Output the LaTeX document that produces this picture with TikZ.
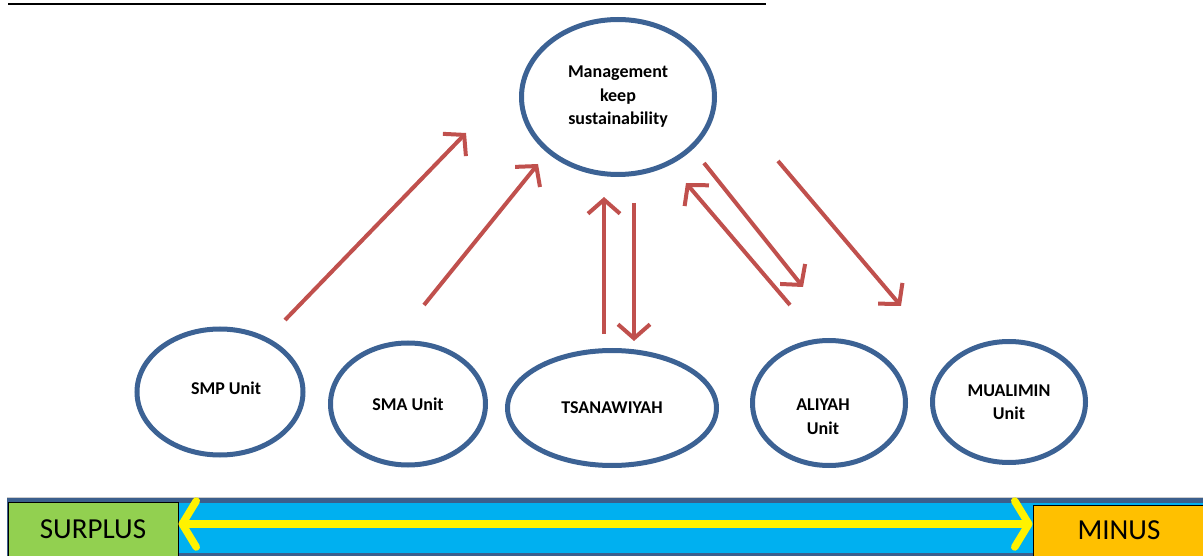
\documentclass[tikz,border=0pt]{standalone}
\usepackage{fontspec}
\setmainfont{Carlito}
\usetikzlibrary{
arrows.meta,%
positioning,%
calc,%
shapes.geometric
}
\definecolor{ringblue}{HTML}{3C6294}
\definecolor{flowred}{HTML}{C0504D}
\definecolor{barblue}{HTML}{3B5F8D}
\definecolor{barcyan}{HTML}{00B0F0}
\definecolor{surgreen}{HTML}{92D050}
\definecolor{minorange}{HTML}{FFC000}
\tikzset{
    unit/.style={draw=ringblue, line width=5pt, ellipse, inner sep=0pt,
        align=center, font=\fontsize{18}{23.5}\selectfont\bfseries},
    unittext/.style={font=\fontsize{18}{24}\selectfont\bfseries, align=center},
    flow/.style={-{Straight Barb[length=14pt, width=32pt]}, draw=flowred, line width=4pt},
    endbox/.style={draw=black, line width=1pt, inner sep=0pt,
        font=\fontsize{29}{30}\selectfont},
    gapline/.style={draw=yellow, line width=7.5pt,
        {Straight Barb[length=14pt, width=46pt, round]}-{Straight Barb[length=14pt, width=46pt, round]}}
}

\begin{document}
\begin{tikzpicture}[x=1pt, y=-1pt]
            \useasboundingbox (0,0) rectangle (1203,556);
            % title rule (text above is cut off)
            \draw[line width=2.5pt] (8,4) -- (766,4);
            % units
            \node[unit, minimum width=193pt, minimum height=155pt] (mgmt) at (618,97) {Management\\keep\\sustainability};
            \node[unit, minimum width=166pt, minimum height=126pt] (smp) at (220,392) {};
            \node[unit, minimum width=155pt, minimum height=122pt] (sma) at (408,404) {SMA Unit};
            \node[unit, minimum width=209pt, minimum height=115pt] (tsa) at (612,408) {TSANAWIYAH};
            \node[unit, minimum width=153pt, minimum height=125pt] (ali) at (829,403) {};
            \node[unit, minimum width=153pt, minimum height=121pt] (mua) at (1009,402) {MUALIMIN\\Unit};
            \node[unittext] at ([xshift=6pt, yshift=4pt]smp.center) {SMP Unit};
            \node[unittext] at ([xshift=-6pt, yshift=-14pt]ali.center) {ALIYAH\\Unit};
            % arrow ends
            \coordinate (smpA) at (285,320);
            \coordinate (smpB) at (466,133);
            \coordinate (smaA) at (424,305);
            \coordinate (smaB) at (538,164);
            \coordinate (tsaA) at (604,334);
            \coordinate (tsaB) at (604,197);
            \coordinate (tsaC) at (634,203);
            \coordinate (tsaD) at (634,341);
            \coordinate (aliA) at (790,305);
            \coordinate (aliB) at (686,183);
            \coordinate (aliC) at (704,163);
            \coordinate (aliD) at (803,287);
            \coordinate (muaA) at (778,161);
            \coordinate (muaB) at (901,306);
            \draw[flow] (smpA) -- (smpB);
            \draw[flow] (smaA) -- (smaB);
            \draw[flow] (tsaA) -- (tsaB);
            \draw[flow] (tsaC) -- (tsaD);
            \draw[flow] (aliA) -- (aliB);
            \draw[flow] (aliC) -- (aliD);
            \draw[flow] (muaA) -- (muaB);
            % bottom scale
            \draw[gray!40, line width=1pt] (7,497) -- (1203,497);
            \fill[barblue] (7,498) rectangle (1203,556);
            \fill[barcyan] (9,503) rectangle (1203,553);
            \node[endbox, fill=surgreen, minimum width=170pt, minimum height=54pt] (surplus) at (93,529) {SURPLUS};
            \node[endbox, fill=minorange, minimum width=172pt, minimum height=51pt] (minus) at (1119,530.5) {\raisebox{-4pt}{MINUS}};
            \draw[gapline] ([yshift=5pt]surplus.east) -- ([yshift=6.5pt]minus.west);
        \end{tikzpicture}
\end{document}
